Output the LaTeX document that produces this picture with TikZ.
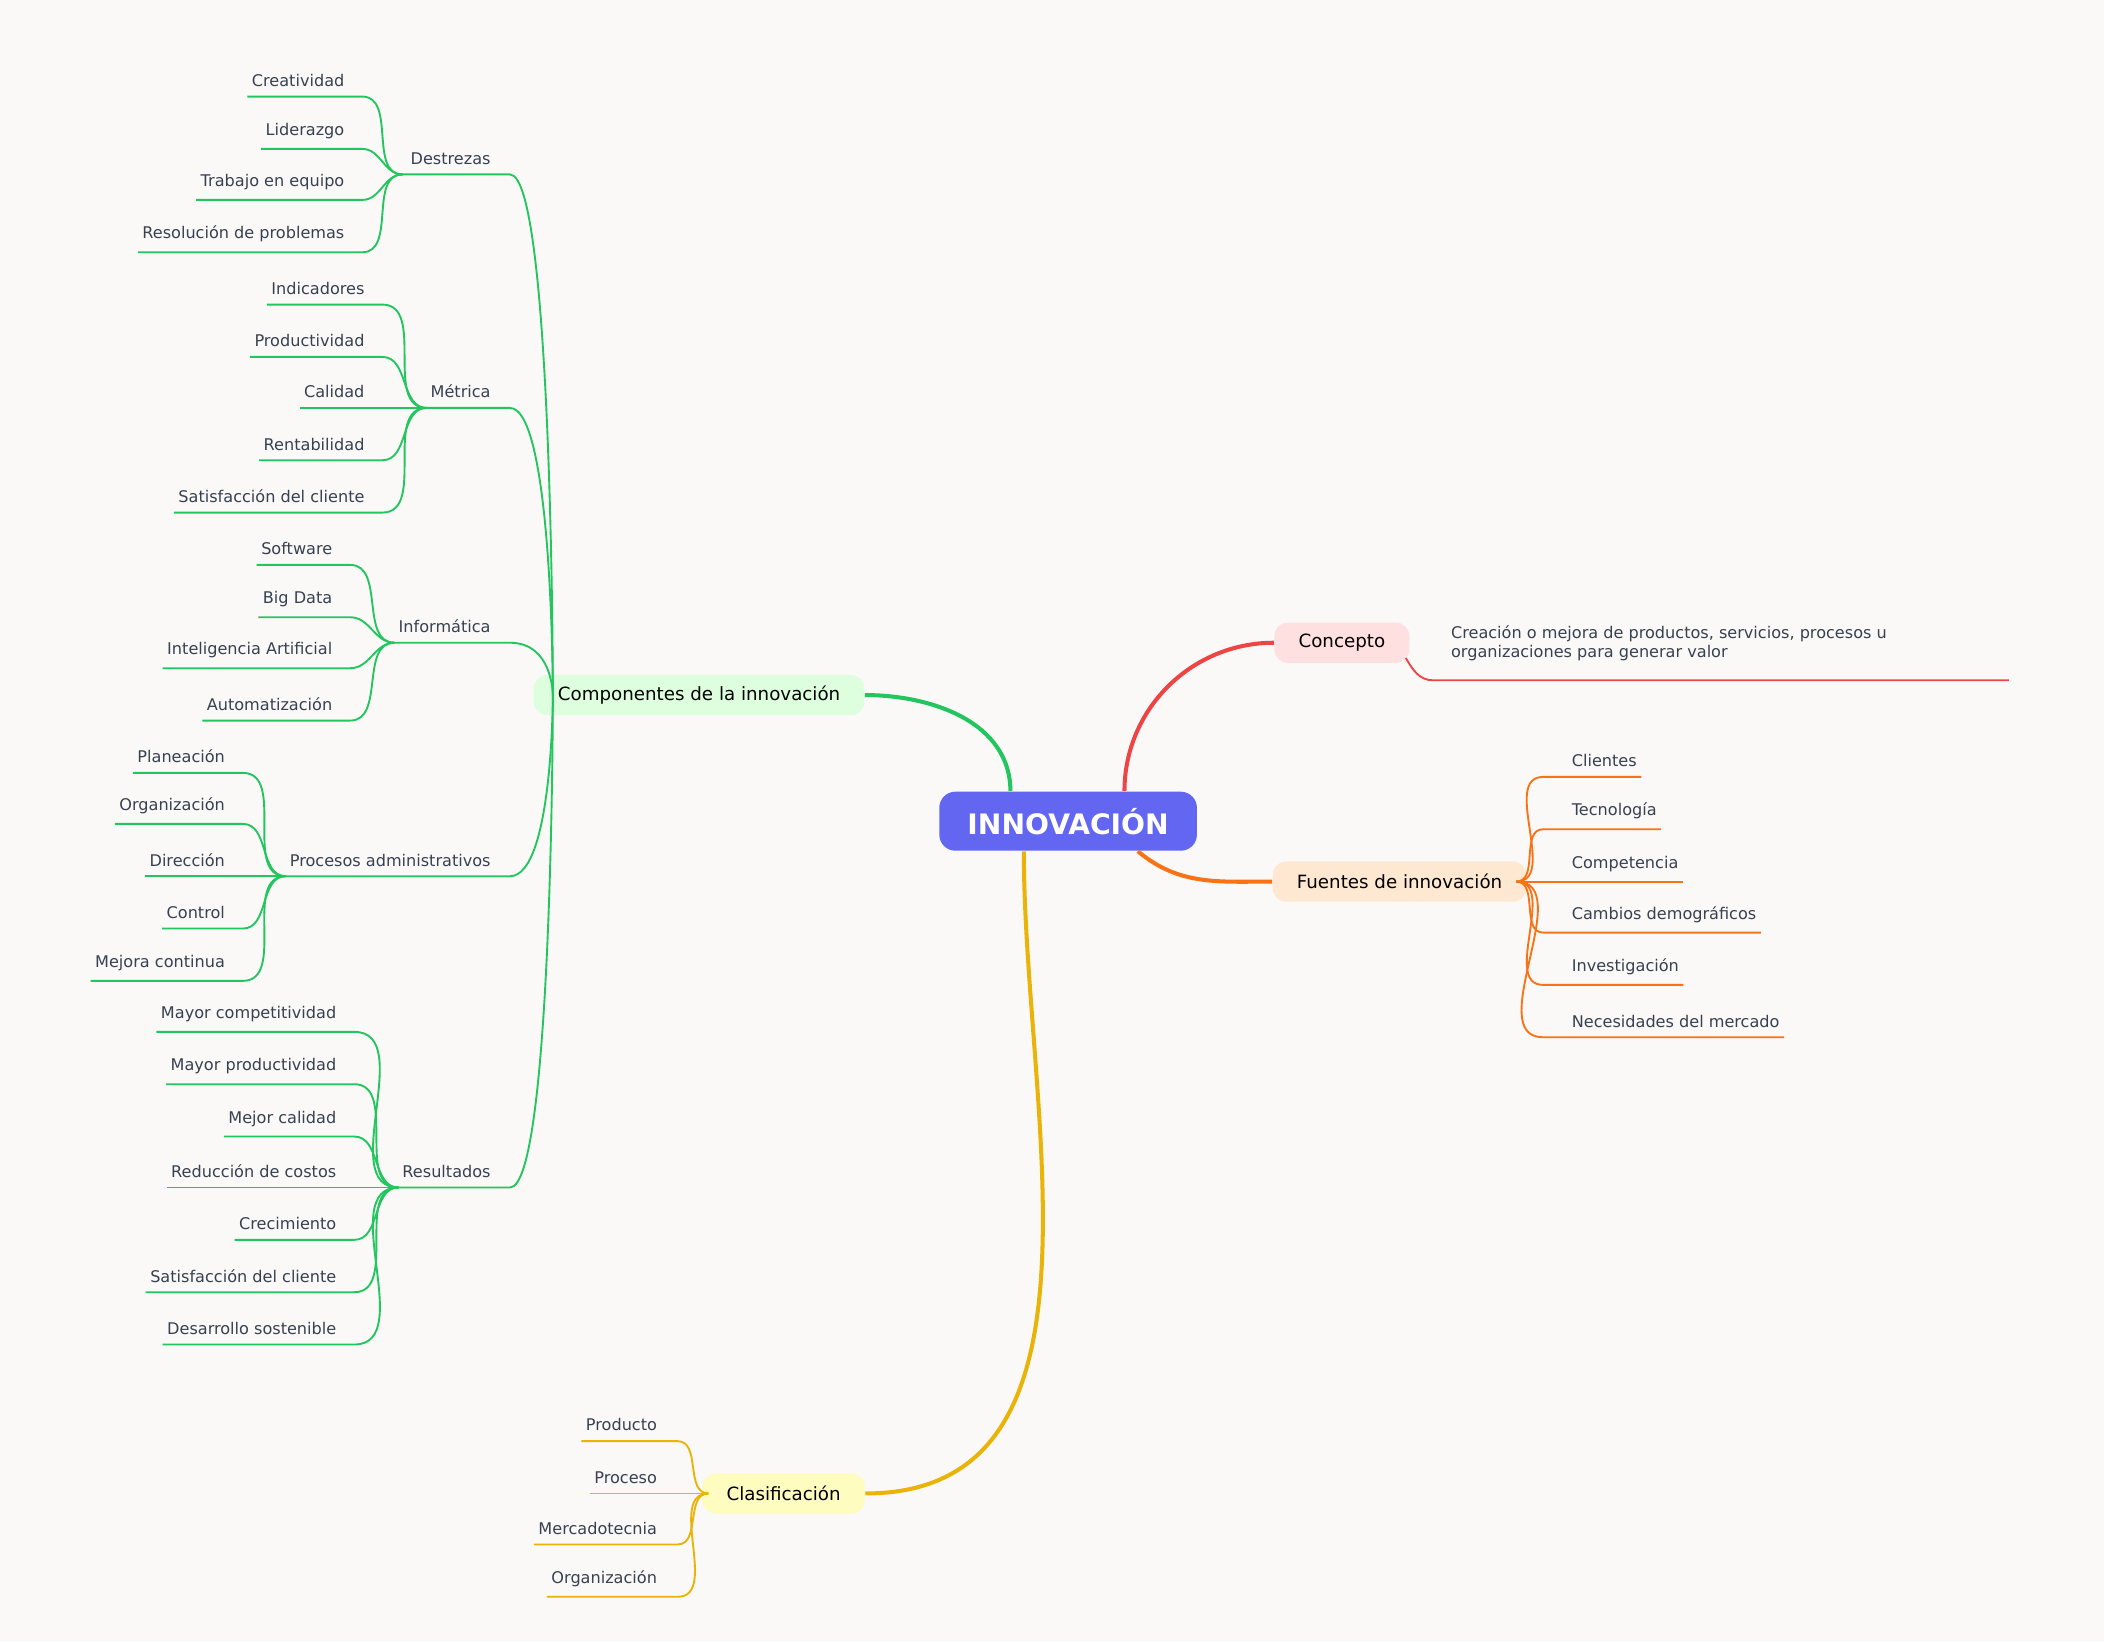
\documentclass[tikz,border=0pt]{standalone}
\usepackage{fontspec}
\setmainfont{DejaVu Sans}
\usetikzlibrary{positioning}
\definecolor{bg}{HTML}{FAF9F7}
\definecolor{txt}{HTML}{374151}
\definecolor{rootc}{HTML}{6366F1}
\definecolor{redc}{HTML}{EF4444}
\definecolor{orac}{HTML}{F97316}
\definecolor{grec}{HTML}{22C55E}
\definecolor{yelc}{HTML}{EAB308}
\tikzset{
  root/.style={rectangle,rounded corners=6pt,fill=rootc,text=white,font=\bfseries\fontsize{10.5}{12}\selectfont,minimum width=96pt,minimum height=22pt},
  main/.style={rectangle,rounded corners=5pt,font=\fontsize{6.8}{8}\selectfont,text=black,minimum height=15pt,inner xsep=9pt},
  sub/.style={font=\fontsize{6}{7}\selectfont,text=txt,inner xsep=1.5pt,inner ysep=3.5pt},
  leafl/.style={sub,anchor=south east},
  leafr/.style={sub,anchor=south west},
  thickedge/.style={line width=1.5pt},
  thinedge/.style={line width=0.7pt}
}
\begin{document}
\begin{tikzpicture}[x=0.5pt,y=-0.5pt]
\fill[bg] (0,0) rectangle (1568,1224);
\useasboundingbox (0,0) rectangle (1568,1224);

% main nodes
\node[root] (root) at (796,612) {INNOVACIÓN};
\node[main,fill=red!12] (con) at (1000,479) {Concepto};
\node[main,fill=orange!18] (fue) at (1043,657) {Fuentes de innovación};
\node[main,fill=green!13] (com) at (521,518) {Componentes de la innovación};
\node[main,fill=yellow!25] (cla) at (584,1113) {Clasificación};

\draw[thickedge,redc] (root.north -| 838,0) to[out=90,in=180] (con.west);
\draw[thickedge,orac] (root.south -| 848,0) to[out=-40,in=180] (fue.west);
\draw[thickedge,grec] (root.north -| 753,0) to[out=90,in=0] (com.east);
\draw[thickedge,yelc] (root.south -| 763,0) to[out=-90,in=0] (cla.east);

% concepto
\node[sub,anchor=south west,align=left] (ctext) at (1078,500) {Creación o mejora de productos, servicios, procesos u\\organizaciones para generar valor};
\coordinate (cend) at (1497,507);
\draw[thinedge,redc] (con.south east) ++(-3,-4) to[out=-60,in=180] (1068,507) -- (cend);

% fuentes
\coordinate (fh) at (1130,657);
\foreach \t/\y [count=\i] in {Clientes/579,Tecnología/618,Competencia/657,Cambios demográficos/695,Investigación/734,Necesidades del mercado/773}{
  \node[leafr] (f\i) at (1168,\y) {\t};
  \draw[thinedge,orac] (fh) to[out=0,in=180] ([xshift=-9pt]f\i.south west) -- (f\i.south east);
}

% clasificacion
\coordinate (ch) at (528,1113);
\foreach \t/\y [count=\i] in {Producto/1074,Proceso/1113,Mercadotecnia/1151,Organización/1190}{
  \node[leafl] (k\i) at (493,\y) {\t};
  \draw[thinedge,yelc] (k\i.south west) -- ([xshift=6pt]k\i.south east) to[out=0,in=180] (ch);
}

% componentes: sub branches
\coordinate (ch2) at (412,518);
\foreach \n/\t/\h/\y in {des/Destrezas/300/130,met/Métrica/318/304,inf/Informática/294/479,pro/Procesos administrativos/213/653,res/Resultados/297/885}{
  \coordinate (\n h) at (\h,\y);
  \node[sub,anchor=south east] (\n) at (369,\y) {\t};
  \draw[thinedge,grec] (\n h) -- (380,\y) .. controls (412,\y) and (412,518) .. (ch2);
}

% leaves
\foreach \t/\y [count=\i] in {Creatividad/72,Liderazgo/111,Trabajo en equipo/149,Resolución de problemas/188}{
  \node[leafl] (d\i) at (260,\y) {\t};
  \draw[thinedge,grec] (d\i.south west) -- ([xshift=5pt]d\i.south east) to[out=0,in=180] (desh);
}
\foreach \t/\y [count=\i] in {Indicadores/227,Productividad/266,Calidad/304,Rentabilidad/343,Satisfacción del cliente/382}{
  \node[leafl] (m\i) at (275,\y) {\t};
  \draw[thinedge,grec] (m\i.south west) -- ([xshift=5pt]m\i.south east) to[out=0,in=180] (meth);
}
\foreach \t/\y [count=\i] in {Software/421,Big Data/460,Inteligencia Artificial/498,Automatización/537}{
  \node[leafl] (i\i) at (251,\y) {\t};
  \draw[thinedge,grec] (i\i.south west) -- ([xshift=5pt]i\i.south east) to[out=0,in=180] (infh);
}
\foreach \t/\y [count=\i] in {Planeación/576,Organización/614,Dirección/653,Control/692,Mejora continua/731}{
  \node[leafl] (p\i) at (171,\y) {\t};
  \draw[thinedge,grec] (p\i.south west) -- ([xshift=5pt]p\i.south east) to[out=0,in=180] (proh);
}
\foreach \t/\y [count=\i] in {Mayor competitividad/769,Mayor productividad/808,Mejor calidad/847,Reducción de costos/885,Crecimiento/924,Satisfacción del cliente/963,Desarrollo sostenible/1002}{
  \node[leafl] (r\i) at (254,\y) {\t};
  \draw[thinedge,grec] (r\i.south west) -- ([xshift=5pt]r\i.south east) to[out=0,in=180] (resh);
}
\end{tikzpicture}
\end{document}
